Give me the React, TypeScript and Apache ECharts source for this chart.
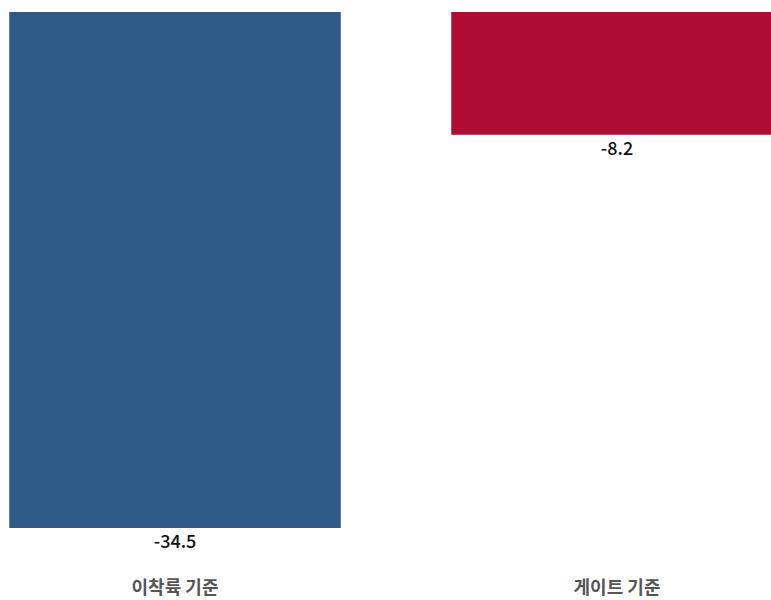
import React, { useEffect, useRef } from "react";
import * as echarts from "echarts";

const categories = ["이착륙 기준", "게이트 기준"];
const values = [-34.5, -8.2];
const barColors = ["#2e5b87", "#ad0c33"];

export default function App() {
  const ref = useRef<HTMLDivElement>(null);
  useEffect(() => {
    if (!ref.current) return;
    const chart = echarts.init(ref.current, null, { renderer: "svg" });
    chart.setOption({
      animation: false,
      grid: { left: 0, right: 0, top: 12, bottom: 72, containLabel: false },
      xAxis: {
        type: "category",
        data: categories,
        position: "bottom",
        axisLine: { show: false, onZero: false },
        axisTick: { show: false },
        axisLabel: {
          margin: 49,
          color: "#555555",
          fontSize: 18,
          fontWeight: "bold",
          fontFamily: "Noto Sans CJK KR",
        },
      },
      yAxis: {
        type: "value",
        min: -34.5,
        max: 0,
        show: false,
        splitLine: { show: false },
      },
      series: [
        {
          type: "bar",
          barWidth: "75%",
          data: values.map((v, i) => ({ value: v, itemStyle: { color: barColors[i] } })),
          label: {
            show: true,
            position: "bottom",
            distance: 3,
            color: "#111111",
            fontSize: 18,
            fontWeight: 500,
            fontFamily: "Noto Sans CJK KR",
          },
        },
      ],
    });
    return () => chart.dispose();
  }, []);
  return (
    <div
      style={{
        position: "fixed",
        left: 0,
        top: 0,
        width: 771,
        height: 600,
        overflow: "hidden",
        background: "#ffffff",
      }}
    >
      <div ref={ref} style={{ position: "absolute", left: -46, top: 0, width: 884, height: 600 }} />
    </div>
  );
}
